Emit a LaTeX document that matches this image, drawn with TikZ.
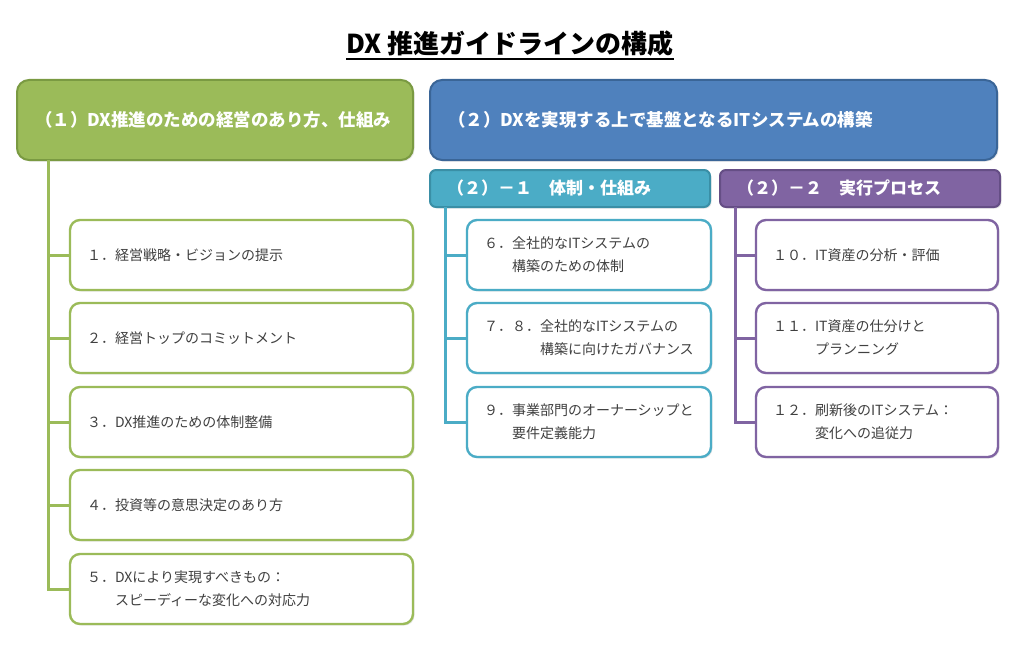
\documentclass[tikz,border=0pt]{standalone}
\usepackage{fontspec}
\setmainfont{Noto Sans CJK JP}
\usetikzlibrary{shadows}
\definecolor{gfill}{HTML}{9BBB59}
\definecolor{gdark}{HTML}{7A9A42}
\definecolor{bfill}{HTML}{4F81BD}
\definecolor{bdark}{HTML}{3A6597}
\definecolor{tfill}{HTML}{4BACC6}
\definecolor{tdark}{HTML}{3A8FA6}
\definecolor{pfill}{HTML}{8064A2}
\definecolor{pdark}{HTML}{654E85}
\definecolor{itext}{HTML}{404040}
\begin{document}
\begin{tikzpicture}[x=1pt,y=-1pt,
  shadowed/.style={drop shadow={opacity=0.18,shadow xshift=1.5pt,shadow yshift=-1.5pt}},
  hdr/.style={rounded corners=12pt,line width=2pt,minimum height=80pt,inner xsep=18pt,align=left,
    text=white,font=\fontsize{17.5}{21}\selectfont\bfseries,shadowed},
  subhdr/.style={rounded corners=6pt,line width=2pt,minimum height=37pt,inner xsep=17pt,align=left,
    text=white,font=\fontsize{17}{20}\selectfont\bfseries,text width=246pt,shadowed},
  item/.style={rounded corners=10pt,line width=2.4pt,fill=white,minimum height=70pt,inner xsep=17pt,
    align=left,text=itext,font=\fontsize{14}{23}\selectfont,shadowed},
  gitem/.style={item,draw=gfill,text width=309pt},
  titem/.style={item,draw=tfill,text width=210pt},
  pitem/.style={item,draw=pfill,text width=208pt},
  trunk/.style={line width=3pt}
]
\useasboundingbox[fill=white] (0,0) rectangle (1024,650);

% title
\node[anchor=base,inner sep=0pt,font=\fontsize{26}{30}\selectfont\bfseries] (title) at (510,54) {DX 推進ガイドラインの構成};
\draw[line width=1.6pt] ([yshift=-5pt]title.base west) -- ([yshift=-5pt]title.base east);

% headers
\node[hdr,fill=gfill,draw=gdark,text width=360pt] (gh) at (215,120) {（１）DX推進のための経営のあり方、仕組み};
\node[hdr,fill=bfill,draw=bdark,text width=531pt] (bh) at (713.5,120) {（２）DXを実現する上で基盤となるITシステムの構築};
\node[subhdr,fill=tfill,draw=tdark] (th) at (570,188.5) {（２）－１　体制・仕組み};
\node[subhdr,fill=pfill,draw=pdark] (ph) at (860,188.5) {（２）－２　実行プロセス};

\coordinate (gt) at (48,160);
\coordinate (tt) at (445,207);
\coordinate (pt) at (735,207);

% green items
\node[gitem] (g1) at (241.5,255) {１．経営戦略・ビジョンの提示};
\node[gitem] (g2) at (241.5,338) {２．経営トップのコミットメント};
\node[gitem] (g3) at (241.5,422) {３．DX推進のための体制整備};
\node[gitem] (g4) at (241.5,505) {４．投資等の意思決定のあり方};
\node[gitem] (g5) at (241.5,589) {５．DXにより実現すべきもの：\\\hspace*{2em}スピーディーな変化への対応力};

% teal items
\node[titem] (t6) at (589,255) {６．全社的なITシステムの\\\hspace*{2em}構築のための体制};
\node[titem] (t7) at (589,338) {７．８．全社的なITシステムの\\\hspace*{4em}構築に向けたガバナンス};
\node[titem] (t9) at (589,422) {９．事業部門のオーナーシップと\\\hspace*{2em}要件定義能力};

% purple items
\node[pitem] (p10) at (877,255) {１０．IT資産の分析・評価};
\node[pitem] (p11) at (877,338) {１１．IT資産の仕分けと\\\hspace*{3em}プランニング};
\node[pitem] (p12) at (877,422) {１２．刷新後のITシステム：\\\hspace*{3em}変化への追従力};

% trunks and branches
\draw[trunk,gfill] (gt) |- (g5.west);
\foreach \i in {1,2,3,4} \draw[trunk,gfill] (gt |- g\i.west) -- (g\i.west);
\draw[trunk,tfill] (tt) |- (t9.west);
\foreach \i in {6,7} \draw[trunk,tfill] (tt |- t\i.west) -- (t\i.west);
\draw[trunk,pfill] (pt) |- (p12.west);
\foreach \i in {10,11} \draw[trunk,pfill] (pt |- p\i.west) -- (p\i.west);
\end{tikzpicture}
\end{document}
